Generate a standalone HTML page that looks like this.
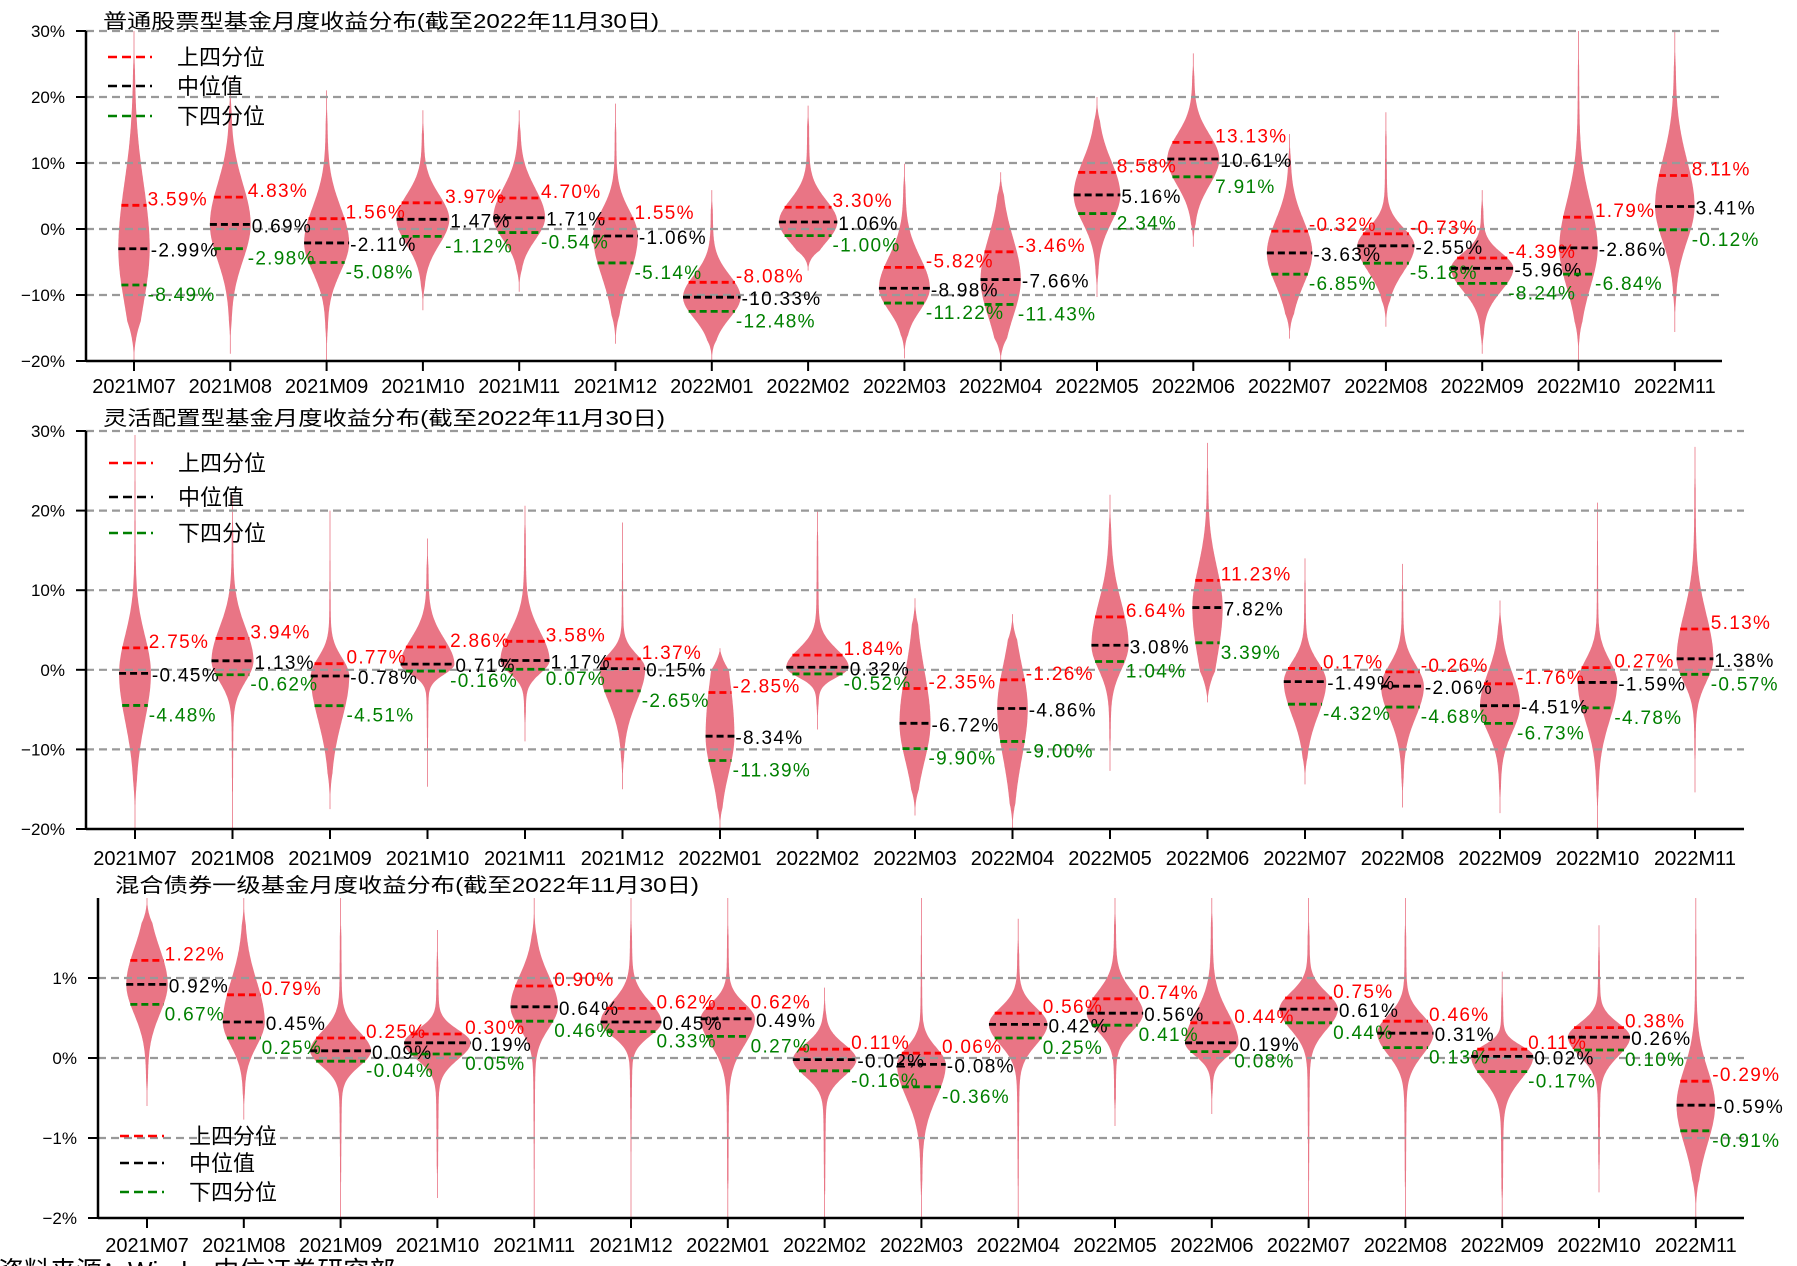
<!DOCTYPE html>
<html><head><meta charset="utf-8"><style>
html,body{margin:0;padding:0;background:#fff;}
svg{display:block;}
text{font-family:"Liberation Sans","Noto Sans CJK SC",sans-serif;}
</style></head><body>
<svg id="chart" width="1797" height="1266" viewBox="0 0 1797 1266" xmlns="http://www.w3.org/2000/svg"></svg>
<script>
const categories=["2021M07","2021M08","2021M09","2021M10","2021M11","2021M12","2022M01","2022M02","2022M03","2022M04","2022M05","2022M06","2022M07","2022M08","2022M09","2022M10","2022M11"];
// Panel 1: 普通股票型
const p1Q3=[3.59,4.83,1.56,3.97,4.70,1.55,-8.08,3.30,-5.82,-3.46,8.58,13.13,-0.32,-0.73,-4.39,1.79,8.11];
const p1Med=[-2.99,0.69,-2.11,1.47,1.71,-1.06,-10.33,1.06,-8.98,-7.66,5.16,10.61,-3.63,-2.55,-5.96,-2.86,3.41];
const p1Q1=[-8.49,-2.98,-5.08,-1.12,-0.54,-5.14,-12.48,-1.00,-11.22,-11.43,2.34,7.91,-6.85,-5.18,-8.24,-6.84,-0.12];
const p1Min=[-20,-18.9,-20,-12.3,-9.5,-17.4,-20,-6.3,-19.6,-20,-10.3,-2.7,-16.6,-14.8,-18.9,-20,-15.6];
const p1Max=[30,23,21,18,18,19,5.9,18.7,9.9,8.6,20,26.6,14.4,17.7,5.9,30,30];
const p1Ticks=[-20,-10,0,10,20,30];
// Panel 2: 灵活配置型
const p2Q3=[2.75,3.94,0.77,2.86,3.58,1.37,-2.85,1.84,-2.35,-1.26,6.64,11.23,0.17,-0.26,-1.76,0.27,5.13];
const p2Med=[-0.45,1.13,-0.78,0.71,1.17,0.15,-8.34,0.32,-6.72,-4.86,3.08,7.82,-1.49,-2.06,-4.51,-1.59,1.38];
const p2Q1=[-4.48,-0.62,-4.51,-0.16,0.07,-2.65,-11.39,-0.52,-9.90,-9.00,1.04,3.39,-4.32,-4.68,-6.73,-4.78,-0.57];
const p2Min=[-20,-20,-17.5,-14.7,-9,-15,-20,-7.5,-18.3,-20,-12.7,-4.1,-14.4,-17.3,-18,-20,-15.4];
const p2Max=[29.5,22,20,16.5,20.6,18.5,2.7,20,9,7,22,28.5,14,13.3,8.7,21,28];
const p2Ticks=[-20,-10,0,10,20,30];
// Panel 3: 混合债券一级
const p3Q3=[1.22,0.79,0.25,0.30,0.90,0.62,0.62,0.11,0.06,0.56,0.74,0.44,0.75,0.46,0.11,0.38,-0.29];
const p3Med=[0.92,0.45,0.09,0.19,0.64,0.45,0.49,-0.02,-0.08,0.42,0.56,0.19,0.61,0.31,0.02,0.26,-0.59];
const p3Q1=[0.67,0.25,-0.04,0.05,0.46,0.33,0.27,-0.16,-0.36,0.25,0.41,0.08,0.44,0.13,-0.17,0.10,-0.91];
const p3Min=[-0.6,-0.77,-2,-1.75,-2,-2,-2,-2,-2,-2,-0.85,-0.7,-2,-2,-2,-1.68,-2];
const p3Max=[2,2,2,1.6,2,2,2,0.88,2,1.74,2,2,2,2,1.08,1.66,2];
const p3Ticks=[-2,-1,0,1];

const NS="http://www.w3.org/2000/svg";
const svg=document.getElementById('chart');
function mk(tag,attrs,parent){const e=document.createElementNS(NS,tag);for(const k in attrs)e.setAttribute(k,attrs[k]);(parent||svg).appendChild(e);return e;}

const panels=[
 {title:"普通股票型基金月度收益分布(截至2022年11月30日)",titleX:103,titleY:28,titleLen:556,q3:p1Q3,med:p1Med,q1:p1Q1,mn:p1Min,mx:p1Max,ticks:p1Ticks,lo:-20,hi:30,yTop:31,yBot:361,axX:86,right:1722,x0:134,dx:96.3,tickLabelY:393,legX:108,legY:[57,86,116],maxHalf:30,name:'stock-fund'},
 {title:"灵活配置型基金月度收益分布(截至2022年11月30日)",titleX:103,titleY:425,titleLen:562,q3:p2Q3,med:p2Med,q1:p2Q1,mn:p2Min,mx:p2Max,ticks:p2Ticks,lo:-20,hi:30,yTop:431,yBot:829,axX:86,right:1744,x0:135,dx:97.5,tickLabelY:865,legX:109,legY:[463,497,533],maxHalf:30,name:'flexible-fund'},
 {title:"混合债券一级基金月度收益分布(截至2022年11月30日)",titleX:115,titleY:892,titleLen:584,q3:p3Q3,med:p3Med,q1:p3Q1,mn:p3Min,mx:p3Max,ticks:p3Ticks,lo:-2,hi:2,yTop:898,yBot:1218,axX:98,right:1744,x0:147,dx:96.8,tickLabelY:1252,legX:120,legY:[1136,1163,1192],maxHalf:32,name:'bond-fund'}
];

panels.forEach((P,pi)=>{
  const g=mk('g',{});
  
  
  const yS=v=>P.yBot-(v-P.lo)/(P.hi-P.lo)*(P.yBot-P.yTop);
  const xS=i=>P.x0+i*P.dx;
  const clipId='clip'+pi;
  const defs=mk('defs',{},g);
  const cp=mk('clipPath',{id:clipId},defs);
  mk('rect',{x:P.axX,y:P.yTop-2,width:P.right-P.axX,height:P.yBot-P.yTop+2},cp);
  const sig=categories.map((c,i)=>({su:Math.max(P.q3[i]-P.med[i],1e-3)/0.674,sd:Math.max(P.med[i]-P.q1[i],1e-3)/0.674}));
  const tot=sig.map(s=>s.su+s.sd);
  const minTot=Math.min(...tot);
  const W=tot.map(t=>P.maxHalf*Math.pow(minTot/t,0.6));
  const half=(i,v)=>{const s=sig[i];const z=v>=P.med[i]?(v-P.med[i])/s.su:(P.med[i]-v)/s.sd;
    let w=W[i]*(Math.exp(-z*z/2)*0.97+0.07*Math.exp(-z/6));
    const rng=P.mx[i]-P.mn[i];const d=Math.min(v-P.mn[i],P.mx[i]-v)/(0.12*rng);
    if(d<1) w*=Math.pow(Math.max(d,0),1.3);
    return w;};
  const vg=mk('g',{'clip-path':'url(#'+clipId+')'},g);
  categories.forEach((c,i)=>{
    const cx=xS(i);const N=200;const pts=[];const ptsL=[];
    for(let k=0;k<=N;k++){const v=P.mn[i]+(P.mx[i]-P.mn[i])*k/N;let w=half(i,v);
      w=Math.max(w,0.4);
      pts.push((cx+w).toFixed(1)+','+yS(v).toFixed(1));ptsL.unshift((cx-w).toFixed(1)+','+yS(v).toFixed(1));}
    const p=mk('polygon',{points:pts.concat(ptsL).join(' '),fill:'#e97585'},vg);
    
    
  });
  P.ticks.forEach(t=>{
    if(t===P.lo)return;
    const l=mk('line',{x1:P.axX,x2:P.right,y1:yS(t),y2:yS(t),stroke:'#999',"stroke-width":2.2,"stroke-dasharray":"8,5"},g);
    
    
  });
  const series=[[P.q3,'#ff0000',-7],[P.med,'#000000',1],[P.q1,'#008000',9]];
  categories.forEach((c,i)=>{
    const cx=xS(i);
    series.forEach(([arr,col,dy])=>{
      const v=arr[i];const w=Math.max(half(i,v),5);const y=yS(v);
      const l=mk('line',{x1:cx-w,x2:cx+w,y1:y,y2:y,stroke:col,"stroke-width":2.8,"stroke-dasharray":"7,4"},g);
      
      
      const t=mk('text',{x:cx+w+1,y:y+dy+7,fill:col,"font-size":19,"letter-spacing":"1.3"},g);
      t.textContent=v.toFixed(2)+'%';
      
      
    });
  });
  mk('line',{x1:P.axX,x2:P.axX,y1:P.yTop,y2:P.yBot,stroke:'#000',"stroke-width":2.5},g);
  const xa=mk('line',{x1:P.axX,x2:P.right,y1:P.yBot,y2:P.yBot,stroke:'#000',"stroke-width":2.5},g);
  
  
  P.ticks.forEach(t=>{
    mk('line',{x1:P.axX-10,x2:P.axX,y1:yS(t),y2:yS(t),stroke:'#000',"stroke-width":2},g);
    const tx=mk('text',{x:P.axX-21,y:yS(t)+6,"text-anchor":"end","font-size":17},g);
    tx.textContent=(t<0?'\u2212'+(-t):t)+'%';
    
    
  });
  categories.forEach((c,i)=>{
    mk('line',{x1:xS(i),x2:xS(i),y1:P.yBot,y2:P.yBot+10,stroke:'#000',"stroke-width":2},g);
    const tx=mk('text',{x:xS(i),y:P.tickLabelY,"text-anchor":"middle","font-size":20},g);
    tx.textContent=c;
    
    
  });
  const ti=mk('text',{x:P.titleX,y:P.titleY,"font-size":20,textLength:P.titleLen,lengthAdjust:"spacingAndGlyphs"},g);
  ti.textContent=P.title;
  
  
  const legs=[['上四分位','#ff0000'],['中位值','#000000'],['下四分位','#008000']];
  legs.forEach((L,k)=>{
    const y=P.legY[k];
    mk('line',{x1:P.legX,x2:P.legX+44,y1:y,y2:y,stroke:L[1],"stroke-width":2.6,"stroke-dasharray":"9,5"},g);
    const tx=mk('text',{x:P.legX+69,y:y+8,"font-size":22},g);
    tx.textContent=L[0];
    
    
  });
});
const src=mk('text',{x:-2,y:1280,"font-size":26});
src.textContent='资料来源：Wind，中信证券研究部';


</script>
</body></html>
